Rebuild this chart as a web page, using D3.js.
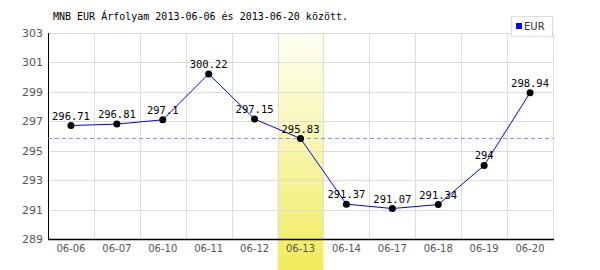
<!DOCTYPE html>
<html>
<head>
<meta charset="UTF-8">
<title>MNB EUR</title>
<script src="https://cdn.jsdelivr.net/npm/d3@7/dist/d3.min.js"></script>
<style>
  body { margin: 0; background: #fff; }
</style>
</head>
<body>
<script>
var dates = ["06-06", "06-07", "06-10", "06-11", "06-12", "06-13", "06-14", "06-17", "06-18", "06-19", "06-20"];
var rates = [296.71, 296.81, 297.1, 300.22, 297.15, 295.83, 291.37, 291.07, 291.34, 294, 298.94];
var yTicks = [289, 291, 293, 295, 297, 299, 301, 303];
var labels = ["296.71", "296.81", "297.1", "300.22", "297.15", "295.83", "291.37", "291.07", "291.34", "294", "298.94"];
var highlight = "06-13";
var avgLine = 295.86;

var w = 600, h = 270;
var mLeft = 48, mRight = 553, mTop = 33, mBottom = 239;

var svg = d3.select("body").append("svg")
    .attr("width", w)
    .attr("height", h);

var defs = svg.append("defs");
var grad = defs.append("linearGradient")
    .attr("id", "hl")
    .attr("x1", 0).attr("y1", 0).attr("x2", 0).attr("y2", 1);
grad.append("stop").attr("offset", "0%").attr("stop-color", "#fffff4");
grad.append("stop").attr("offset", "100%").attr("stop-color", "#f0ec5c");

var x = d3.scaleBand().domain(dates).range([mLeft, mRight]);
var y = d3.scaleLinear().domain([289, 303]).range([mBottom, mTop]);

// highlighted day
svg.append("rect")
    .attr("x", x(highlight))
    .attr("y", mTop)
    .attr("width", x.bandwidth())
    .attr("height", h - mTop)
    .attr("fill", "url(#hl)");

// grid
svg.selectAll("line.hg")
    .data(yTicks.slice(1))
    .enter().append("line")
    .attr("x1", mLeft).attr("x2", mRight)
    .attr("y1", function (d) { return Math.round(y(d)) + 0.5; })
    .attr("y2", function (d) { return Math.round(y(d)) + 0.5; })
    .attr("stroke", "#dcdcdc");

svg.selectAll("line.vg")
    .data(dates)
    .enter().append("line")
    .attr("x1", function (d) { return Math.round(x(d) + x.bandwidth()) + 0.5; })
    .attr("x2", function (d) { return Math.round(x(d) + x.bandwidth()) + 0.5; })
    .attr("y1", mTop).attr("y2", mBottom)
    .attr("stroke", "#dcdcdc");

// axes lines
svg.append("line")
    .attr("x1", mLeft + 0.5).attr("x2", mLeft + 0.5)
    .attr("y1", mTop).attr("y2", mBottom + 1)
    .attr("stroke", "#000").attr("stroke-width", 1);
svg.append("line")
    .attr("x1", mLeft).attr("x2", mRight + 1)
    .attr("y1", mBottom + 0.5).attr("y2", mBottom + 0.5)
    .attr("stroke", "#000").attr("stroke-width", 1.5);

// tick labels
svg.selectAll("text.yt")
    .data(yTicks)
    .enter().append("text")
    .attr("x", 43)
    .attr("y", function (d) { return y(d) + 4; })
    .attr("text-anchor", "end")
    .attr("font-family", "DejaVu Sans, sans-serif")
    .attr("font-size", 11)
    .attr("fill", "#555")
    .text(function (d) { return d; });

svg.selectAll("text.xt")
    .data(dates)
    .enter().append("text")
    .attr("x", function (d) { return x(d) + x.bandwidth() / 2; })
    .attr("y", 252)
    .attr("text-anchor", "middle")
    .attr("font-family", "DejaVu Sans, sans-serif")
    .attr("font-size", 10)
    .attr("fill", "#555")
    .text(function (d) { return d; });

// average
svg.append("line")
    .attr("x1", mLeft).attr("x2", mRight)
    .attr("y1", Math.round(y(avgLine)) + 0.5).attr("y2", Math.round(y(avgLine)) + 0.5)
    .attr("stroke", "#8a8aff")
    .attr("stroke-dasharray", "4,3");

// series
var line = d3.line()
    .x(function (d, i) { return x(dates[i]) + x.bandwidth() / 2; })
    .y(function (d) { return y(d); });

svg.append("path")
    .datum(rates)
    .attr("d", line)
    .attr("fill", "none")
    .attr("stroke", "#0000ff")
    .attr("stroke-width", 1);

svg.selectAll("circle")
    .data(rates)
    .enter().append("circle")
    .attr("cx", function (d, i) { return x(dates[i]) + x.bandwidth() / 2; })
    .attr("cy", function (d) { return y(d); })
    .attr("r", 3.5)
    .attr("fill", "#000");

svg.selectAll("text.val")
    .data(rates)
    .enter().append("text")
    .attr("x", function (d, i) { return x(dates[i]) + x.bandwidth() / 2; })
    .attr("y", function (d) { return y(d) - 6; })
    .attr("text-anchor", "middle")
    .attr("font-family", "DejaVu Sans Mono, monospace")
    .attr("font-size", 10.5)
    .attr("fill", "#000")
    .text(function (d, i) { return labels[i]; });

// title
svg.append("text")
    .attr("x", 53)
    .attr("y", 20)
    .attr("font-family", "DejaVu Sans Mono, monospace")
    .attr("font-size", 10)
    .attr("fill", "#000")
    .text("MNB EUR Árfolyam 2013-06-06 és 2013-06-20 között.");

// legend
svg.append("rect")
    .attr("x", 511.5).attr("y", 16.5)
    .attr("width", 41).attr("height", 20)
    .attr("fill", "#fff")
    .attr("stroke", "#ddd");
svg.append("rect")
    .attr("x", 516).attr("y", 23)
    .attr("width", 6).attr("height", 6)
    .attr("fill", "#0000ff");
svg.append("text")
    .attr("x", 524)
    .attr("y", 30)
    .attr("font-family", "DejaVu Sans, sans-serif")
    .attr("font-size", 10)
    .attr("fill", "#333")
    .text("EUR");
</script>
</body>
</html>
